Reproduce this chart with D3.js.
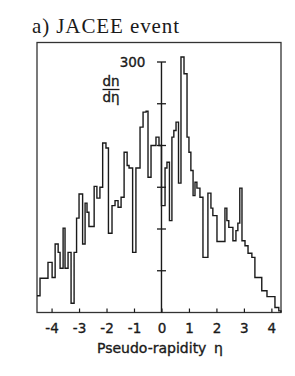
<!DOCTYPE html>
<html>
<head>
<meta charset="utf-8">
<script src="https://cdn.jsdelivr.net/npm/d3@7"></script>
<style>
  body { margin: 0; background: #fff; }
  svg { display: block; }
</style>
</head>
<body>
<script>
  // left edges of each histogram step (pseudo-rapidity), last entry is the right end
  const etaEdges = [
    -4.53, -4.42, -4.13, -3.98, -3.87, -3.76, -3.69, -3.58, -3.51, -3.40,
    -3.29, -3.18, -3.09, -3.00, -2.87, -2.78, -2.71, -2.64, -2.45, -2.35,
    -2.24, -2.14, -2.02, -1.93, -1.80, -1.69, -1.58, -1.47, -1.36, -1.25,
    -1.18, -1.05, -0.93, -0.78, -0.67, -0.56, -0.49, -0.38, -0.20, -0.09,
    0.00, 0.13, 0.20, 0.29, 0.38, 0.45, 0.53, 0.62, 0.71, 0.82,
    0.93, 1.00, 1.07, 1.15, 1.22, 1.29, 1.40, 1.51, 1.69, 1.80,
    1.87, 2.02, 2.31, 2.38, 2.45, 2.60, 2.71, 2.78, 2.85, 2.93,
    3.04, 3.15, 3.29, 3.40, 3.65, 3.84, 4.13, 4.27, 4.35
  ];

  // dn/deta for each step
  const counts = [
    20, 41, 60, 42, 82, 72, 53, 101, 53, 72,
    11, 72, 113, 142, 82, 131, 120, 103, 151, 137,
    150, 203, 197, 95, 128, 134, 126, 138, 192, 176,
    173, 72, 173, 222, 240, 241, 162, 200, 210, 200,
    128, 173, 180, 110, 210, 218, 228, 155, 306, 286,
    210, 192, 170, 140, 156, 149, 138, 66, 143, 125,
    116, 85, 125, 110, 102, 86, 98, 107, 149, 86,
    80, 71, 66, 42, 26, 19, 6, 2
  ];

  const xTicks = [-4, -3, -2, -1, 0, 1, 2, 3, 4];
  const yTicks = [50, 100, 150, 200, 250, 300];
  const yLabel = 300;

  const width = 295;
  const height = 376;
  const frame = { left: 37, right: 281, top: 42.5, bottom: 312.5 };

  const svg = d3.select('body')
    .append('svg')
    .attr('width', width)
    .attr('height', height);

  const x = d3.scaleLinear()
    .domain([-4.53, 4.35])
    .range([frame.left, frame.right]);

  const y = d3.scaleLinear()
    .domain([0, 300])
    .range([frame.bottom, 62]);

  const ink = '#1a1a1a';

  // title
  svg.append('text')
    .attr('x', 32)
    .attr('y', 33)
    .attr('font-family', 'Liberation Serif')
    .attr('font-size', 21)
    .attr('letter-spacing', 0.9)
    .attr('fill', ink)
    .text('a) JACEE event');

  // frame
  svg.append('rect')
    .attr('x', frame.left)
    .attr('y', frame.top)
    .attr('width', frame.right - frame.left)
    .attr('height', frame.bottom - frame.top)
    .attr('fill', 'none')
    .attr('stroke', '#333')
    .attr('stroke-width', 1.3);

  // bottom ticks + labels
  const xAxis = d3.axisBottom(x)
    .tickValues(xTicks)
    .tickSize(-4)
    .tickPadding(10.5)
    .tickFormat((d) => (d < 0 ? '-' + (-d) : '' + d));

  const gx = svg.append('g')
    .attr('transform', `translate(0,${frame.bottom})`)
    .call(xAxis);
  gx.select('.domain').remove();
  gx.selectAll('line').attr('stroke', ink).attr('stroke-width', 1.2);
  gx.selectAll('text')
    .attr('font-family', 'DejaVu Sans')
    .attr('font-size', 13.5)
    .attr('fill', ink)
    .attr('stroke', ink)
    .attr('stroke-width', 0.35);

  // vertical axis at eta = 0
  svg.append('line')
    .attr('x1', x(0)).attr('x2', x(0))
    .attr('y1', frame.bottom).attr('y2', y(300))
    .attr('stroke', ink)
    .attr('stroke-width', 1.4);

  svg.selectAll('.ytick')
    .data(yTicks)
    .join('line')
    .attr('class', 'ytick')
    .attr('x1', x(0) - 4.5)
    .attr('x2', x(0) + 4.5)
    .attr('y1', (d) => y(d))
    .attr('y2', (d) => y(d))
    .attr('stroke', ink)
    .attr('stroke-width', 1.3);

  svg.append('text')
    .attr('x', x(0) - 16)
    .attr('y', y(yLabel) + 5)
    .attr('text-anchor', 'end')
    .attr('font-family', 'DejaVu Sans')
    .attr('font-size', 13.5)
    .attr('fill', ink)
    .attr('stroke', ink)
    .attr('stroke-width', 0.35)
    .text(yLabel);

  // dn / deta
  const frac = svg.append('g')
    .attr('font-family', 'DejaVu Sans')
    .attr('font-size', 13.5)
    .attr('fill', ink)
    .attr('text-anchor', 'middle');
  frac.append('text').attr('x', 111).attr('y', 86)
    .attr('stroke', ink).attr('stroke-width', 0.35).text('dn');
  frac.append('line')
    .attr('x1', 102.5).attr('x2', 119.5)
    .attr('y1', 89.5).attr('y2', 89.5)
    .attr('stroke', ink).attr('stroke-width', 1.3);
  frac.append('text').attr('x', 111).attr('y', 102)
    .attr('stroke', ink).attr('stroke-width', 0.35).text('dη');

  // histogram
  const pts = counts.map((c, i) => [etaEdges[i], c]);
  pts.push([etaEdges[etaEdges.length - 1], counts[counts.length - 1]]);
  pts.push([etaEdges[etaEdges.length - 1], 0]);

  const line = d3.line()
    .x((d) => x(d[0]))
    .y((d) => y(d[1]))
    .curve(d3.curveStepAfter);

  svg.append('path')
    .datum(pts)
    .attr('d', line)
    .attr('fill', 'none')
    .attr('stroke', ink)
    .attr('stroke-width', 1.4);

  // x axis title
  const xt = svg.append('text')
    .attr('y', 353)
    .attr('font-family', 'DejaVu Sans')
    .attr('font-size', 14)
    .attr('fill', ink)
    .attr('stroke', ink)
    .attr('stroke-width', 0.35);
  xt.append('tspan').attr('x', 97).text('Pseudo-rapidity');
  xt.append('tspan').attr('x', 214).text('η');
</script>
</body>
</html>
